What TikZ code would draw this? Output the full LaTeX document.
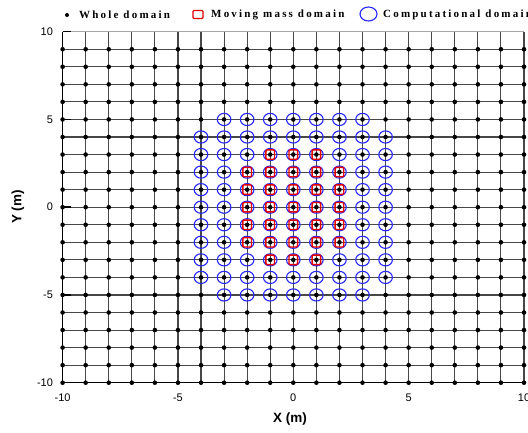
\documentclass[tikz,border=0pt]{standalone}
\usepackage{fontspec}
\setmainfont{Liberation Serif}
\setsansfont{Liberation Sans}
\newfontfamily\legfont[LetterSpace=20]{Liberation Serif}
\begin{document}
\begin{tikzpicture}[x=1pt,y=1pt,
  gridline/.style={draw=black!72,line width=1.1pt},
  topline/.style={draw=black!35,line width=1.1pt},
  axisline/.style={draw=black,line width=1.5pt},
  wdot/.style={fill=black},
  comp/.style={draw=blue!85!white,line width=1.1pt},
  mass/.style={draw=red!90!black,line width=1.4pt,rounded corners=1pt},
  ticklab/.style={font=\sffamily\fontsize{11}{12}\selectfont,inner sep=0pt},
  axlab/.style={font=\sffamily\bfseries\fontsize{13.5}{15}\selectfont,inner sep=0pt},
  leglab/.style={font=\legfont\bfseries\fontsize{11}{12}\selectfont,inner sep=0pt,anchor=west}]
\useasboundingbox (0,0) rectangle (528,432);
\clip (0,0) rectangle (528,432);
\fill[white] (0,0) rectangle (528,432);
\begin{scope}[shift={(293.3,224.8)},x=23.07pt,y=17.55pt]
  \foreach \v in {-10,...,10} \draw[gridline] (\v,-10) -- (\v,10);
  \foreach \w in {-10,...,9} \draw[gridline] (-10,\w) -- (10,\w);
  \draw[topline] (-10,10) -- (10,10);
  \draw[axisline] (-10,10) -- (-10,-10) -- (10,-10);
  \foreach \w in {-10,-5,0,5,10} \draw[axisline] (-10,\w) -- ++(8pt,0);
  \foreach \v in {-10,...,10} \foreach \w in {-10,...,9} \fill[wdot] (\v,\w) circle[radius=2.3pt];
  \foreach \v in {-4,...,4} \foreach \w in {-4,...,4}
    \draw[comp] (\v,\w) ellipse[x radius=6.8pt,y radius=6.1pt];
  \foreach \v in {-3,...,3} \foreach \w in {-5,5}
    \draw[comp] (\v,\w) ellipse[x radius=6.8pt,y radius=6.1pt];
  \foreach \v in {-2,...,2} \foreach \w in {-2,...,2}
    \draw[mass] (\v,\w) ++(-4.3pt,-4.7pt) rectangle ++(8.6pt,9.4pt);
  \foreach \v in {-1,...,1} \foreach \w in {-3,3}
    \draw[mass] (\v,\w) ++(-4.3pt,-4.7pt) rectangle ++(8.6pt,9.4pt);
  \foreach \v/\n in {-10/xa,-5/xb,0/xc,5/xd,10/xe}
    \node[ticklab] (\n) at ([yshift=-15.5pt]\v,-10) {\v};
  \foreach \w/\n in {-10/ya,-5/yb,0/yc,5/yd,10/ye}
    \node[ticklab,anchor=east] (\n) at ([xshift=-9.5pt]-10,\w) {\w};
\end{scope}
\node[axlab,rotate=90] (ylab) at (18,225) {Y (m)};
\node[axlab] (xlab) at (290,13) {X (m)};
\fill[wdot] (67,417) circle[radius=2pt];
\node[leglab] (l1) at (79,417.5) {Whole domain};
\draw[mass,line width=1.2pt] (193,413.5) rectangle (203,421.5);
\node[leglab] (l2) at (211,417.5) {Moving mass domain};
\draw[comp] (368.5,418) ellipse[x radius=8.5pt,y radius=7pt];
\node[leglab] (l3) at (383,417.5) {Computational domain};
\end{tikzpicture}
\end{document}
